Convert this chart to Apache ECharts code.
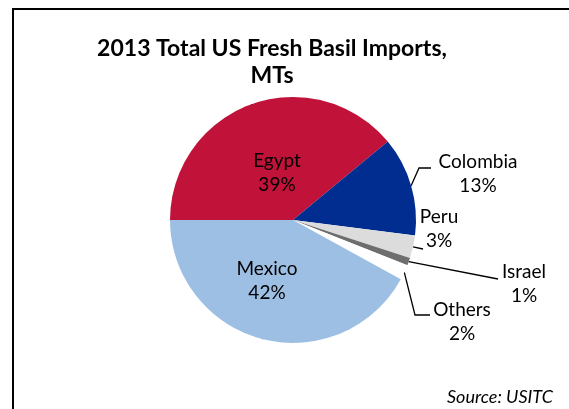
<!DOCTYPE html>
<html>
<head>
<meta charset="utf-8">
<script src="https://cdn.jsdelivr.net/npm/echarts@6/dist/echarts.min.js"></script>
<style>
html,body{margin:0;padding:0;background:#fff;}
#chart{width:569px;height:409px;}
</style>
</head>
<body>
<div id="chart"></div>
<script>
const categories = ['Egypt', 'Colombia', 'Peru', 'Israel', 'Others', 'Mexico'];
const shares = [39, 13, 3, 1, 2, 42];
const colors = ['#C1123A', '#002D8F', '#DCDCDC', '#6E6E6E', '#FFFFFF', '#9DBFE4'];

// label placement (center of label block) and leader-line shape
const labelPos = {
  Egypt:    { x: 277, y: 173 },
  Mexico:   { x: 267, y: 281 },
  Colombia: { x: 478, y: 174, line: [[419, 168], [431, 168]] },
  Peru:     { x: 439, y: 229, line: [[423, 249]] },
  Israel:   { x: 524, y: 284, line: [[498, 279]] },
  Others:   { x: 462, y: 322, line: [[415, 315], [430, 315]] }
};

const FONT = 'Lato, "Open Sans", sans-serif';
const chart = echarts.init(document.getElementById('chart'), null, { renderer: 'canvas' });

chart.setOption({
  animation: false,
  backgroundColor: '#ffffff',
  title: {
    text: '2013 Total US Fresh Basil Imports,\nMTs',
    left: 267,
    top: 30,
    textAlign: 'center',
    textStyle: { fontFamily: FONT, fontWeight: 'bold', fontSize: 23, color: '#000', lineHeight: 27 }
  },
  graphic: [
    { type: 'rect', shape: { x: 13, y: 9, width: 600, height: 450 },
      style: { fill: 'none', stroke: '#000', lineWidth: 2 }, silent: true },
    { type: 'text', x: 553, y: 397,
      style: { text: 'Source: USITC', font: 'italic 18px ' + FONT, fill: '#000',
               textAlign: 'right', textVerticalAlign: 'middle' } }
  ],
  series: [{
    type: 'pie',
    center: [293, 220],
    radius: [0, 123],
    startAngle: 180,
    clockwise: true,
    data: categories.map((n, i) => ({ name: n, value: shares[i], itemStyle: { color: colors[i] } })),
    itemStyle: { borderWidth: 0 },
    label: {
      show: true,
      position: 'outside',
      formatter: p => p.name + '\n' + p.value + '%',
      fontFamily: FONT,
      fontSize: 19,
      lineHeight: 24,
      color: '#000'
    },
    labelLine: { show: true, length: 10, length2: 10, lineStyle: { color: '#000', width: 1.3 } },
    labelLayout: function (params) {
      const name = categories[params.dataIndex];
      const lp = labelPos[name];
      const out = { x: lp.x, y: lp.y, align: 'center', verticalAlign: 'middle' };
      if (lp.line && params.labelLinePoints) {
        out.labelLinePoints = [params.labelLinePoints[0]].concat(lp.line);
      } else {
        out.labelLinePoints = null;
      }
      return out;
    }
  }]
});
</script>
</body>
</html>
